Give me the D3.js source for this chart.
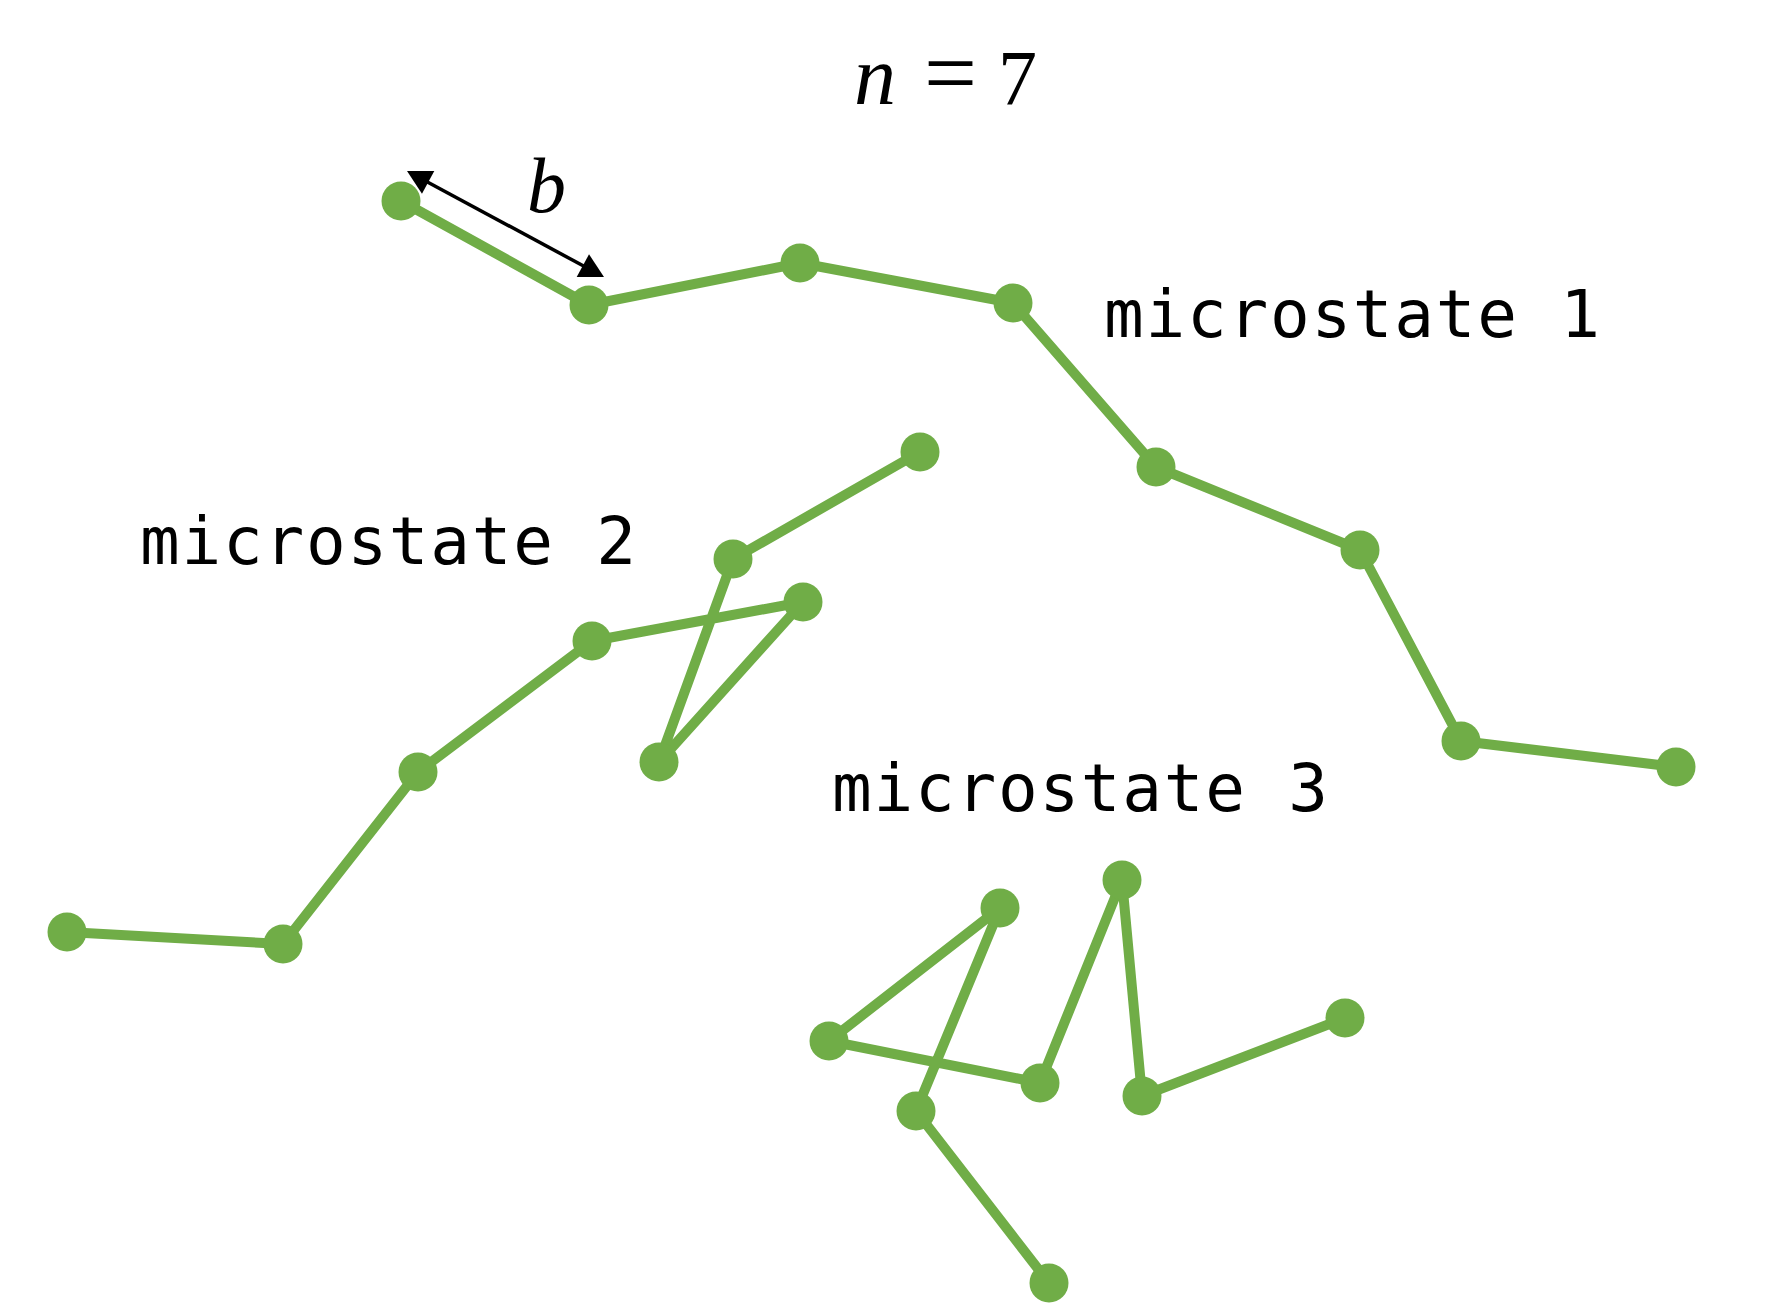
<!DOCTYPE html>
<html>
<head>
<meta charset="utf-8">
<script src="https://cdn.jsdelivr.net/npm/d3@7/dist/d3.min.js"></script>
<style>
  html, body { margin: 0; padding: 0; background: #fff; }
  svg { display: block; }
</style>
</head>
<body>
<div id="chart"></div>
<script>
// bead positions (picture units, y down)
var chainNames = ["microstate 1", "microstate 2", "microstate 3"];
var chain1 = [[401, 201], [589, 305], [800, 263], [1013, 303], [1156, 467], [1360, 550], [1461, 741], [1676, 767]];
var chain2 = [[67, 932], [283, 944], [418, 772], [592, 641], [803, 602], [659, 762], [733, 559], [920, 452]];
var chain3 = [[1049, 1283], [916, 1111], [1000, 908], [829, 1041], [1040, 1083], [1122, 880], [1142, 1096], [1345, 1018]];
var chains = [chain1, chain2, chain3];
// label anchors (left end of text, baseline)
var labelPos = [[1104, 337], [140, 564], [832, 811]];
var bondEnds = [[407, 171], [604, 277]];

var W = 1768, H = 1311;
var green = "#70AD47";

var x = d3.scaleLinear().domain([0, 1768]).range([0, W]);
var y = d3.scaleLinear().domain([0, 1311]).range([0, H]);

var svg = d3.select("#chart").append("svg")
  .attr("width", W).attr("height", H);
svg.append("rect").attr("width", W).attr("height", H).attr("fill", "#fff");

var line = d3.line().x(function (d) { return x(d[0]); }).y(function (d) { return y(d[1]); });

var g = svg.selectAll("g.chain").data(chains).enter().append("g").attr("class", "chain");
g.append("path")
  .attr("d", function (d) { return line(d); })
  .attr("fill", "none")
  .attr("stroke", green)
  .attr("stroke-width", 10)
  .attr("stroke-linejoin", "round");
g.selectAll("circle").data(function (d) { return d; }).enter().append("circle")
  .attr("cx", function (d) { return x(d[0]); })
  .attr("cy", function (d) { return y(d[1]); })
  .attr("r", 19.5)
  .attr("fill", green);

svg.selectAll("text.lab").data(chainNames).enter().append("text")
  .attr("class", "lab")
  .attr("x", function (d, i) { return x(labelPos[i][0]); })
  .attr("y", function (d, i) { return y(labelPos[i][1]); })
  .attr("font-family", "DejaVu Sans Mono, monospace")
  .attr("font-size", 66)
  .attr("textLength", 496)
  .attr("lengthAdjust", "spacing")
  .attr("fill", "#000")
  .text(function (d) { return d; });

// double-headed arrow for bond length b
var p0 = [x(bondEnds[0][0]), y(bondEnds[0][1])];
var p1 = [x(bondEnds[1][0]), y(bondEnds[1][1])];
var ang = Math.atan2(p1[1] - p0[1], p1[0] - p0[0]);
var headL = 24, headW = 13;
function head(tip, a) {
  var bx = tip[0] - headL * Math.cos(a), by = tip[1] - headL * Math.sin(a);
  var nx = -Math.sin(a) * headW, ny = Math.cos(a) * headW;
  return "M" + tip[0] + "," + tip[1] + "L" + (bx + nx) + "," + (by + ny) + "L" + (bx - nx) + "," + (by - ny) + "Z";
}
svg.append("line")
  .attr("x1", p0[0] + (headL - 4) * Math.cos(ang)).attr("y1", p0[1] + (headL - 4) * Math.sin(ang))
  .attr("x2", p1[0] - (headL - 4) * Math.cos(ang)).attr("y2", p1[1] - (headL - 4) * Math.sin(ang))
  .attr("stroke", "#000").attr("stroke-width", 3.5);
svg.append("path").attr("d", head(p1, ang)).attr("fill", "#000");
svg.append("path").attr("d", head(p0, ang + Math.PI)).attr("fill", "#000");

var serif = "Liberation Serif, DejaVu Serif, serif";
svg.append("text")
  .attr("x", x(527)).attr("y", y(212))
  .attr("font-family", serif).attr("font-style", "italic").attr("font-size", 78)
  .text("b");

// n = 7
var t = svg.append("text")
  .attr("y", y(104))
  .attr("font-family", serif).attr("font-size", 78);
t.append("tspan").attr("x", x(854)).attr("font-style", "italic").attr("font-size", 84).text("n");
t.append("tspan").attr("x", x(924)).attr("font-size", 94).text("=");
t.append("tspan").attr("x", x(998)).text("7");
</script>
</body>
</html>
